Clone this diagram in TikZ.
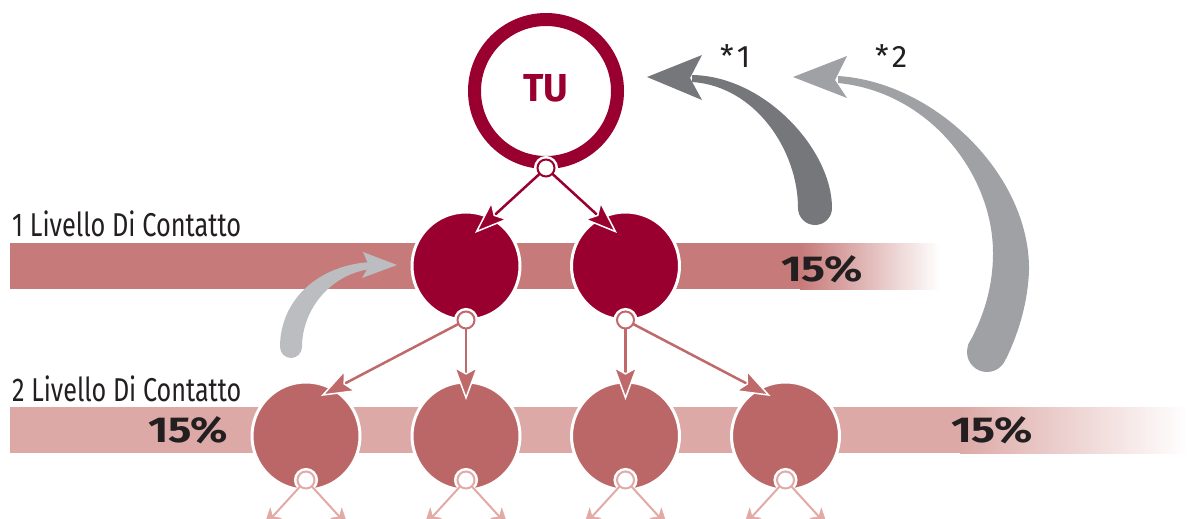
\documentclass[tikz,border=0pt]{standalone}
\usepackage{graphicx}
\usepackage{fontspec}
\setmainfont{Fira Sans}
\usetikzlibrary{arrows.meta,calc}
\definecolor{crim}{HTML}{990030}
\definecolor{bandA}{HTML}{C67A79}
\definecolor{bandB}{HTML}{DCA9A6}
\definecolor{midred}{HTML}{BC6767}
\definecolor{arrB}{HTML}{C0696A}
\definecolor{arrC}{HTML}{E2AAA7}
\definecolor{grayA}{HTML}{76777B}
\definecolor{grayB}{HTML}{A0A1A5}
\definecolor{grayC}{HTML}{BBBDC0}
\definecolor{txt}{HTML}{231F20}
\begin{document}
\begin{tikzpicture}[x=1pt,y=-1pt,
  lvlone/.style={circle, fill=crim, draw=white, line width=3pt, minimum size=108pt, inner sep=0pt},
  lvltwo/.style={circle, fill=midred, draw=white, line width=3pt, minimum size=108pt, inner sep=0pt},
  conn/.style={circle, fill=white, draw=#1, line width=2pt, minimum size=17pt, inner sep=0pt, outer sep=0pt, preaction={draw=white, line width=7pt}},
  link/.style={draw=#1, line width=2.5pt, -{Stealth[length=34pt 0 0, width=25pt 0 0, inset=7pt, fill=#1, color=white, line width=1.5pt]}},
  sublink/.style={draw=#1, line width=2pt, -{Stealth[length=18pt 0 0, width=16pt 0 0, inset=5pt, fill=#1, color=#1, line width=0.5pt]}},
  lvllabel/.style={anchor=base west, inner sep=0pt, text=txt, font=\fontsize{33}{36}\selectfont},
  pct/.style={anchor=base, inner sep=0pt, text=txt, font=\bfseries\fontsize{36}{40}\selectfont},
  star/.style={anchor=base west, inner sep=0pt, text=txt, font=\fontsize{31}{34}\selectfont}
]
\useasboundingbox (0,0) rectangle (1188,519);
\clip (0,0) rectangle (1188,519);
% bands
\fill[bandA] (10,243) rectangle (802,289);
\shade[left color=bandA, right color=white] (800,243) rectangle (940,289);
\fill[bandB] (10,407) rectangle (962,453);
\shade[left color=bandB, right color=white] (960,407) rectangle (1188,453);
% labels
\node[lvllabel] (lab1) at (12,236) {\resizebox{229pt}{\height}{1 Livello Di Contatto}};
\node[lvllabel] (lab2) at (12,401) {\resizebox{229pt}{\height}{2 Livello Di Contatto}};
\node[pct] (p1) at (822,281) {\resizebox{82pt}{\height}{15\%}};
\node[pct] (p2) at (188,442) {\resizebox{80pt}{\height}{15\%}};
\node[pct] (p3) at (992,442) {\resizebox{82pt}{\height}{15\%}};
% light gray arrow (left)
\fill[grayC] (371,262) .. controls (318,265) and (280,300) .. (280,347) -- (302,347) .. controls (302,310) and (330,274) .. (371,269) -- cycle;
\fill[grayC] (291,347) circle[radius=11];
\fill[grayC] (397,265) -- (363,252) -- (369,266) -- (362,278) -- cycle;
% TU
\node[circle, draw=crim, line width=13pt, minimum size=143pt, inner sep=0pt] (tu) at (546,91) {};
\node[anchor=base, inner sep=0pt, text=crim, font=\bfseries\fontsize{39}{40}\selectfont] (tul) at (546,101) {\resizebox{45pt}{\height}{TU}};
% level nodes
\node[lvlone] (l1a) at (466,266) {};
\node[lvlone] (l1b) at (625.5,266) {};
\node[lvltwo] (l2a) at (306,436) {};
\node[lvltwo] (l2b) at (466,436) {};
\node[lvltwo] (l2c) at (625.5,436) {};
\node[lvltwo] (l2d) at (785.5,436) {};
% tips
\coordinate (ta) at ($(l1a)+(9,-33)$);
\coordinate (tb) at ($(l1b)+(-8.5,-33)$);
\coordinate (t2a) at ($(l2a)+(15,-40)$);
\coordinate (t2b) at ($(l2b)+(0,-36)$);
\coordinate (t2c) at ($(l2c)+(0,-36)$);
\coordinate (t2d) at ($(l2d)+(-15,-40)$);
% connectors
\node[conn=crim] (tuc) at (546,168) {};
\node[conn=arrB] (c1a) at (466,320) {};
\node[conn=arrB] (c1b) at (625.5,320) {};
\node[conn=arrC] (c2a) at (306,480) {};
\node[conn=arrC] (c2b) at (466,480) {};
\node[conn=arrC] (c2c) at (625.5,480) {};
\node[conn=arrC] (c2d) at (785.5,480) {};
\foreach \n in {a,b,c,d}{
  \coordinate (bl\n) at ($(c2\n)+(-42,46)$);
  \coordinate (br\n) at ($(c2\n)+(42,46)$);
}
% links
\draw[link=crim] (tuc) -- (ta);
\draw[link=crim] (tuc) -- (tb);
\draw[link=arrB] (c1a) -- (t2a);
\draw[link=arrB] (c1a) -- (t2b);
\draw[link=arrB] (c1b) -- (t2c);
\draw[link=arrB] (c1b) -- (t2d);
\foreach \n in {a,b,c,d}{
  \draw[sublink=arrC] (c2\n) -- (bl\n);
  \draw[sublink=arrC] (c2\n) -- (br\n);
}
% dark gray arrow *1
\fill[grayA] (692,75) .. controls (765,76) and (832,150) .. (832,208) -- (798,208) .. controls (798,150) and (755,86) .. (692,82) -- cycle;
\fill[grayA] (815,208) circle[radius=17];
\fill[grayA] (647,77) -- (702,55) -- (690,78) -- (702,100) -- cycle;
% mid gray arrow *2
\fill[grayB] (838,76) .. controls (935,82) and (1030,175) .. (1029,270) .. controls (1028,300) and (1020,330) .. (1006,359) -- (968,345) .. controls (982,320) and (993,290) .. (993,253) .. controls (993,175) and (930,92) .. (838,83) -- cycle;
\fill[grayB] (987,352) circle[radius=20];
\fill[grayB] (793,77) -- (847,56) -- (835,80) -- (847,98) -- cycle;
\node[star] (s1) at (720,67) {*\kern3pt 1};
\node[star] (s2) at (875,67) {*\kern3pt 2};
\end{tikzpicture}
\end{document}
